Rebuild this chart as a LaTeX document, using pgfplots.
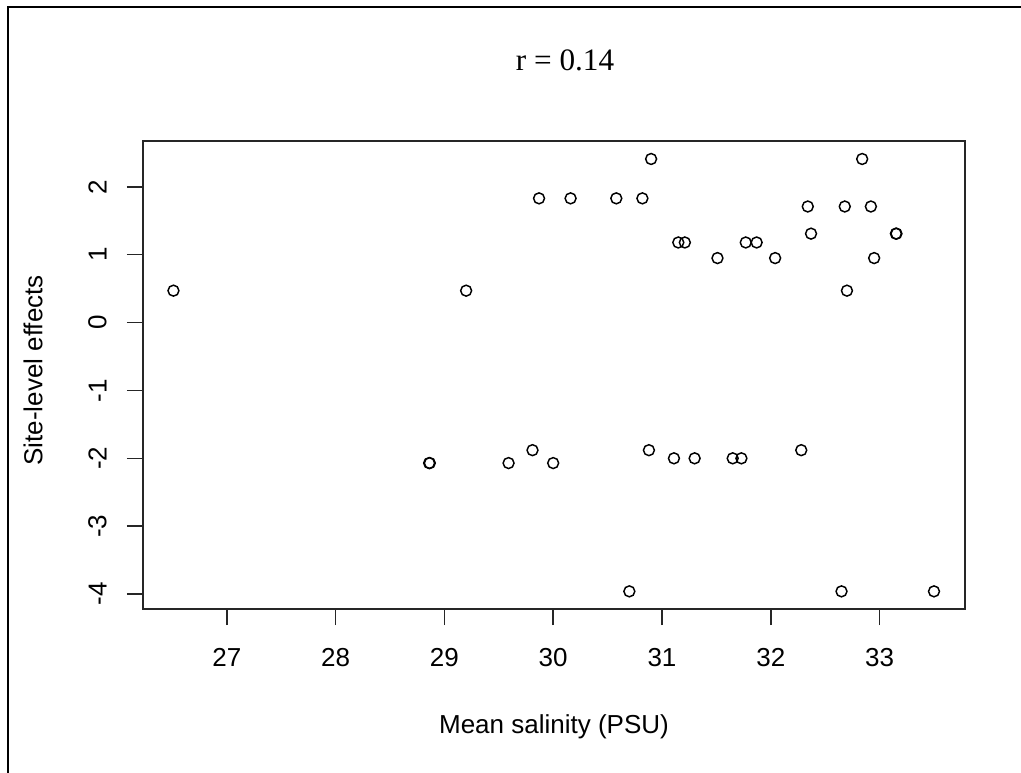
\documentclass[border=0pt]{standalone}
\usepackage{pgfplots}
\pgfplotsset{compat=1.18}
\usepackage{fontspec}
\setmainfont{Liberation Sans}
\newfontfamily\serifr{Liberation Serif}
\begin{document}
\begin{tikzpicture}
\useasboundingbox (0pt,0pt) rectangle (765.75pt,-579.75pt);
\fill[white] (0pt,0pt) rectangle (765.75pt,-579.75pt);
\draw[line width=1.6pt,black] (6pt,-579.75pt) -- (6pt,-5.25pt) -- (765.75pt,-5.25pt);
\begin{axis}[
  at={(107.25pt,-456.75pt)}, anchor=south west,
  scale only axis, width=616.5pt, height=351pt,
  xmin=26.23, xmax=33.785, ymin=-4.22, ymax=2.675,
  axis line style={line width=1.1pt, black!85},
  tick style={line width=1.1pt, black!85},
  tick align=outside, major tick length=12pt,
  xtick={27,28,29,30,31,32,33},
  xticklabels={27,28,29,30,31,32,33},
  ytick={-4,-3,-2,-1,0,1,2},
  yticklabels={-4,-3,-2,-1,0,1,2},
  xtick pos=bottom, ytick pos=left,
  tick label style={font=\fontsize{19.5pt}{23pt}\selectfont, inner sep=0pt},
  xticklabel style={anchor=north, yshift=-17pt},
  yticklabel style={rotate=90, anchor=south, yshift=15pt},
  label style={font=\fontsize{19.5pt}{23pt}\selectfont},
  xlabel={Mean salinity (PSU)},
  xlabel style={at={(axis description cs:0.5,-0.2521)}, anchor=center},
  ylabel={Site-level effects},
  ylabel style={at={(axis description cs:-0.1338,0.51)}, anchor=center, rotate=0},
  title={r = 0.14},
  title style={at={(axis description cs:0.5134,1.156)}, anchor=center, font=\serifr\fontsize{23.4pt}{28pt}\selectfont},
]
\addplot[only marks, mark=o, mark size=4.1pt, mark options={line width=1.1pt, black}] coordinates {
(26.51,0.47) (29.20,0.47) (29.87,1.83) (30.16,1.83) (30.58,1.83) (30.82,1.83)
(30.90,2.41) (31.15,1.18) (31.21,1.18) (31.51,0.95) (31.77,1.18) (31.87,1.18)
(32.04,0.95) (32.34,1.71) (32.37,1.31) (32.68,1.71) (32.84,2.41) (32.70,0.47)
(32.92,1.71) (32.95,0.95) (33.15,1.31) (33.155,1.31)
(28.86,-2.07) (28.866,-2.07) (29.59,-2.07) (29.81,-1.88) (30.00,-2.07)
(30.88,-1.88) (30.70,-3.96) (31.11,-2.00) (31.30,-2.00) (31.65,-2.00) (31.73,-2.00)
(32.28,-1.88) (32.65,-3.96) (33.50,-3.96)
};
\end{axis}
\end{tikzpicture}
\end{document}
